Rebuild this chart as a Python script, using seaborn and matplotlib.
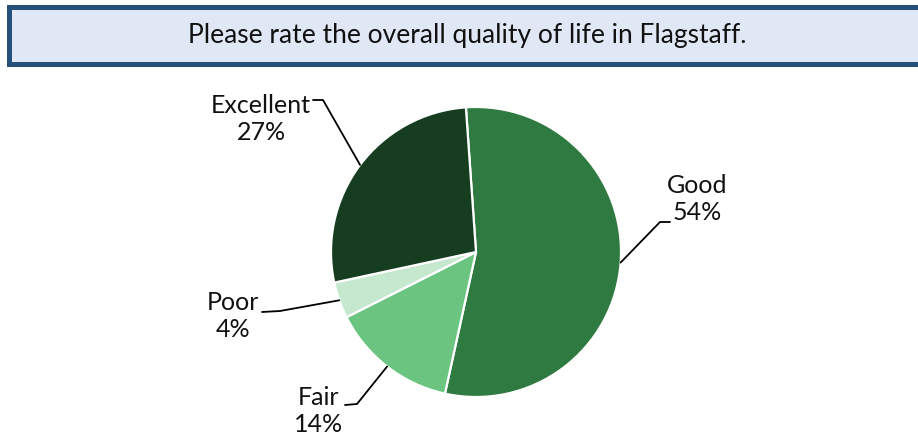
import numpy as np
import matplotlib
matplotlib.use("Agg")
import matplotlib.pyplot as plt
from matplotlib.patches import Rectangle
import seaborn as sns

# ---- data ----
categories = ["Good", "Fair", "Poor", "Excellent"]
values = [54, 14, 4, 27]
labels_pct = ["54%", "14%", "4%", "27%"]
title_text = "Please rate the overall quality of life in Flagstaff."

sns.set_theme(style="white")
plt.rcParams["font.family"] = ["Lato", "DejaVu Sans"]

colors = sns.color_palette(["#2E7A40", "#6BC581", "#C6E8CF", "#173D20"])

W, H = 918, 442
fig = plt.figure(figsize=(W / 100, H / 100), dpi=100)
ax = fig.add_axes([0, 0, 1, 1])
ax.set_xlim(0, W)
ax.set_ylim(0, H)
ax.set_aspect("equal")
ax.axis("off")

# title box (pixel layout, y up)
box = Rectangle((8.5, H - 63.5), 930, 57, facecolor="#DFE8F4",
                edgecolor="#24507A", linewidth=3.6, zorder=1)
ax.add_patch(box)
ax.text(467, H - 35, title_text, ha="center", va="center",
        fontsize=19, color="#111111", zorder=2)

# pie
cx, cy, r = 476, H - 252, 145
wedges, _ = ax.pie(values, colors=colors, startangle=94, counterclock=False,
                   center=(cx, cy), radius=r, frame=True,
                   wedgeprops=dict(edgecolor="white", linewidth=1.6))
ax.set_xlim(0, W)
ax.set_ylim(0, H)
ax.axis("off")

# label layout: (anchor angle fraction within wedge, elbow, elbow end, text pos)
layout = {
    "Good":      dict(frac=0.5, line=[(660, H - 222), (670, H - 222)], text=(697, H - 199), ha="center"),
    "Fair":      dict(frac=0.5, line=[(357, H - 404), (345, H - 405)], text=(319, H - 411), ha="center"),
    "Poor":      dict(frac=0.5, line=[(280, H - 311), (262, H - 312)], text=(233, H - 316), ha="center"),
    "Excellent": dict(frac=0.5, line=[(323, H - 100), (313, H - 100)], text=(261, H - 119), ha="center"),
}

for w, cat, pct in zip(wedges, categories, labels_pct):
    L = layout[cat]
    th = np.deg2rad(w.theta1 + (w.theta2 - w.theta1) * L["frac"])
    x0, y0 = cx + r * np.cos(th), cy + r * np.sin(th)
    xs = [x0] + [p[0] for p in L["line"]]
    ys = [y0] + [p[1] for p in L["line"]]
    ax.plot(xs, ys, color="black", linewidth=1.3, zorder=3)
    ax.text(L["text"][0], L["text"][1], f"{cat}\n{pct}", ha=L["ha"], va="center",
            fontsize=18, color="#111111", linespacing=1.2, zorder=4)

fig.savefig("out.png", dpi=100)
